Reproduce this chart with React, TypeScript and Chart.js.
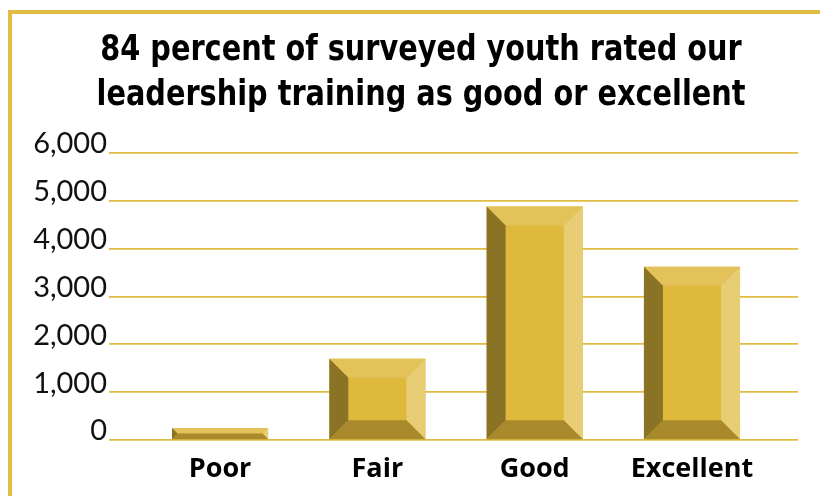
import React, { useEffect, useRef } from "react";
import { Chart, registerables } from "chart.js";

Chart.register(...registerables);

const titleLines = ["84 percent of surveyed youth rated our", "leadership training as good or excellent"];
const categories = ["Poor", "Fair", "Good", "Excellent"];
const counts = [250, 1700, 4880, 3620];
const yMin = 0;
const yMax = 6000;
const yStep = 1000;

const FRONT = "#dfb93c";
const TOP = "#e3c25a";
const RIGHT = "#e7ce74";
const BOTTOM = "#a88a2c";
const LEFT = "#8b7326";
const GOLD = "#e1bc42";

const titlePlugin = {
  id: "condensedTitle",
  afterDraw(chart: any) {
    const ctx = chart.ctx;
    ctx.save();
    ctx.font = "bold 36px 'DejaVu Sans Condensed', 'DejaVu Sans', sans-serif";
    ctx.fillStyle = "#000";
    ctx.textAlign = "center";
    ctx.textBaseline = "alphabetic";
    titleLines.forEach((line, i) => {
      ctx.save();
      ctx.translate(421, 60 + i * 45);
      ctx.scale(0.888, 1);
      ctx.fillText(line, 0, 0);
      ctx.restore();
    });
    ctx.restore();
  },
};

const bevelPlugin = {
  id: "bevel",
  afterDatasetsDraw(chart: any) {
    const ctx = chart.ctx;
    const meta = chart.getDatasetMeta(0);
    meta.data.forEach((bar: any) => {
      const { x, y, base, width } = bar.getProps(["x", "y", "base", "width"], true);
      const l = x - width / 2;
      const r = x + width / 2;
      const t = Math.min(y, base);
      const b = Math.max(y, base);
      const h = b - t;
      const d = Math.min(19, h / 2, width / 2);
      const poly = (pts: number[][], color: string) => {
        ctx.beginPath();
        ctx.moveTo(pts[0][0], pts[0][1]);
        for (let i = 1; i < pts.length; i++) ctx.lineTo(pts[i][0], pts[i][1]);
        ctx.closePath();
        ctx.fillStyle = color;
        ctx.fill();
      };
      ctx.save();
      poly([[l, t], [r, t], [r - d, t + d], [l + d, t + d]], TOP);
      poly([[r, t], [r, b], [r - d, b - d], [r - d, t + d]], RIGHT);
      poly([[l, b], [r, b], [r - d, b - d], [l + d, b - d]], BOTTOM);
      poly([[l, t], [l + d, t + d], [l + d, b - d], [l, b]], LEFT);
      ctx.restore();
    });
  },
};

export default function App() {
  const ref = useRef<HTMLCanvasElement>(null);
  useEffect(() => {
    if (!ref.current) return;
    const chart = new Chart(ref.current, {
      type: "bar",
      data: {
        datasets: [
          {
            data: counts.map((v, i) => ({ x: i, y: v })),
            backgroundColor: FRONT,
            borderWidth: 0,
            barPercentage: 0.611,
            categoryPercentage: 1,
          },
        ],
      },
      options: {
        responsive: false,
        animation: false,
        layout: { padding: { top: 153, right: 22, left: 0, bottom: 0 } },
        plugins: {
          legend: { display: false },
          tooltip: { enabled: false },
          title: { display: false },
        },
        scales: {
          x: {
            type: "linear",
            offset: false,
            min: -0.706,
            max: 3.674,
            grid: { display: false, drawTicks: false },
            border: { display: false },
            afterBuildTicks: (s: any) => {
              s.ticks = categories.map((_, i) => ({ value: i }));
            },
            afterFit: (s: any) => {
              s.height = 56;
            },
            ticks: {
              autoSkip: false,
              maxRotation: 0,
              padding: 13,
              color: "#000",
              font: { family: "'Open Sans', sans-serif", size: 27, weight: "bold" },
              callback: (v: any) => categories[Math.round(Number(v))] ?? "",
            },
          },
          y: {
            min: yMin,
            max: yMax,
            grid: { color: GOLD, lineWidth: 1.7, drawTicks: false },
            border: { display: false },
            afterFit: (s: any) => {
              s.width = 109;
            },
            ticks: {
              stepSize: yStep,
              padding: 2,
              labelOffset: -9,
              color: "#111",
              font: { family: "Lato, sans-serif", size: 29 },
            },
          },
        },
      },
      plugins: [bevelPlugin, titlePlugin],
    });
    return () => chart.destroy();
  }, []);
  return (
    <div style={{ position: "fixed", left: 0, top: 0, width: 820, height: 496, background: "#fff", overflow: "hidden" }}>
      <div
        style={{
          position: "absolute",
          left: 8,
          top: 10,
          right: 0,
          bottom: 0,
          borderTop: `4px solid ${GOLD}`,
          borderLeft: `4px solid ${GOLD}`,
        }}
      />
      <canvas ref={ref} width={820} height={496} style={{ position: "absolute", left: 0, top: 0 }} />
    </div>
  );
}
